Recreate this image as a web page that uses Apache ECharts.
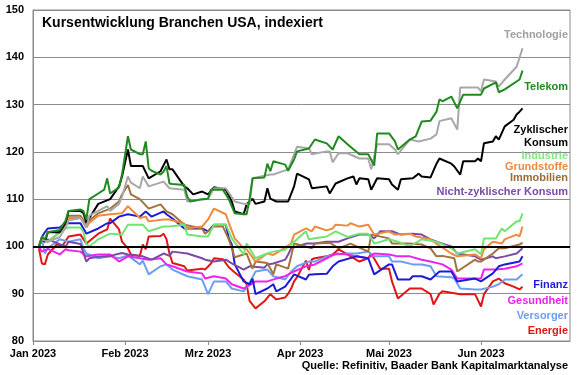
<!DOCTYPE html>
<html><head><meta charset="utf-8">
<script src="https://cdn.jsdelivr.net/npm/echarts@6/dist/echarts.min.js"></script>
<style>html,body{margin:0;padding:0;background:#fff}#c{width:580px;height:375px}</style>
</head><body><div id="c"></div>
<script>
// ---- data ----
const monthLabels = ['Jan', 'Feb', 'Mrz', 'Apr', 'Mai', 'Jun', 'Jul'];
const yTicks = { min: 80, max: 150, interval: 10 };

const technologie = [['01-03',100],['01-04',101.5],['01-06',101],['01-10',102],['01-12',104],['01-13',105.5],['01-17',106],['01-19',104],['01-20',106.5],['01-23',107.5],['01-26',108.5],['01-27',107.5],['01-30',109],['01-31',110.5],['02-02',114.8],['02-03',113.5],['02-06',112.3],['02-07',114.8],['02-09',112.7],['02-14',113.7],['02-16',112.3],['02-21',112],['02-22',109.5],['03-01',110.1],['03-03',112.3],['03-07',112.3],['03-10',109.5],['03-13',109],['03-15',108.9],['03-16',114.4],['03-22',115.2],['03-23',115.2],['03-28',116.3],['03-31',121.1],['04-04',120.7],['04-05',119.5],['04-10',120.1],['04-11',120.1],['04-12',117.8],['04-14',119.7],['04-17',119.7],['04-21',118.6],['04-24',118.6],['04-25',116.3],['04-27',121.6],['05-01',121.6],['05-03',120.5],['05-04',119.5],['05-08',122.6],['05-11',122.2],['05-15',122.8],['05-17',123.7],['05-18',126.5],['05-22',127.1],['05-24',124.7],['05-25',133.6],['05-31',133.6],['06-01',132.8],['06-02',135.3],['06-06',134.9],['06-07',133.8],['06-09',135.3],['06-13',138],['06-15',141.9]];
const telekom = [['01-03',100],['01-04',102],['01-05',101.5],['01-06',103],['01-10',103.5],['01-12',105.5],['01-13',107.5],['01-17',107.8],['01-18',107.5],['01-19',105.7],['01-20',110],['01-23',111.2],['01-25',112],['01-26',114.4],['01-27',111.2],['01-30',112.5],['01-31',115.2],['02-02',123.3],['02-03',120.5],['02-06',119.5],['02-07',119.5],['02-08',122.2],['02-09',116.5],['02-10',116],['02-13',115.2],['02-14',115.8],['02-15',117],['02-16',113.3],['02-17',113.2],['02-21',113],['02-22',110.5],['02-23',109.5],['02-27',110],['03-01',110.1],['03-02',112],['03-06',112],['03-08',110],['03-10',107],['03-13',106.8],['03-14',106.8],['03-15',110],['03-16',114.4],['03-20',114.6],['03-21',117.5],['03-22',115.9],['03-23',118],['03-27',117.3],['03-28',116],['03-30',118.4],['03-31',120.1],['04-04',120.7],['04-06',122.6],['04-10',121.8],['04-12',120.5],['04-14',123.3],['04-17',121.6],['04-21',119.5],['04-24',119.5],['04-26',117.1],['04-27',123.9],['05-01',123.9],['05-03',122.2],['05-04',120.5],['05-08',122.6],['05-10',123.3],['05-12',126.4],['05-15',126.6],['05-17',128.5],['05-18',131.1],['05-19',130.7],['05-22',131.7],['05-24',129.2],['05-26',132.1],['06-01',132.1],['06-02',133.4],['06-06',134.7],['06-07',132.6],['06-09',133.2],['06-14',135.3],['06-15',137.2]];
const zyklKonsum = [['01-03',100],['01-04',101.5],['01-05',101],['01-06',103],['01-10',103],['01-12',105],['01-13',107.5],['01-17',107.5],['01-18',107],['01-19',105],['01-20',106],['01-23',109],['01-27',110],['01-30',112.7],['01-31',114.8],['02-02',120.5],['02-03',117],['02-07',117],['02-09',114.4],['02-13',115.9],['02-15',118.4],['02-16',116.3],['02-17',116.3],['02-21',112.7],['02-22',112.3],['02-24',111],['02-27',111.6],['03-01',111],['03-03',112.5],['03-07',112],['03-09',109.5],['03-10',107.4],['03-13',106.8],['03-14',108.9],['03-16',110.1],['03-17',109],['03-20',109.5],['03-21',112.3],['03-22',110.1],['03-24',109.5],['03-28',109.5],['03-30',112.7],['03-31',115.4],['04-04',114.2],['04-05',112.3],['04-10',112.7],['04-11',111.2],['04-13',113.3],['04-17',114.4],['04-19',114.8],['04-20',113.1],['04-21',114.4],['04-24',114.2],['04-25',112],['04-27',114.4],['05-01',114.2],['05-02',113.1],['05-04',112],['05-05',114.2],['05-09',114.4],['05-11',115.4],['05-12',114.8],['05-15',114.6],['05-17',117.5],['05-18',118.6],['05-22',117.5],['05-23',116.9],['05-25',115.2],['05-26',118],['05-30',118],['05-31',118.6],['06-01',118],['06-02',121.8],['06-05',122.2],['06-06',123.3],['06-07',122.6],['06-09',125.4],['06-12',126.8],['06-13',127.9],['06-14',128.5],['06-15',129.2]];
const industrie = [['01-03',100],['01-04',101.5],['01-06',101],['01-10',103],['01-12',103.8],['01-13',104],['01-17',104],['01-18',103],['01-19',100.5],['01-20',100],['01-23',101.5],['01-27',102.7],['01-31',102.5],['02-02',104.6],['02-07',104.6],['02-09',103.2],['02-14',104.2],['02-16',104.2],['02-21',104.6],['02-22',102.5],['02-27',102.1],['03-01',102.1],['03-03',104.6],['03-07',104.6],['03-09',101.7],['03-13',98.3],['03-14',100.6],['03-17',97.5],['03-20',98.3],['03-23',98.9],['03-27',99.3],['03-28',100],['03-29',100.4],['04-03',103.2],['04-04',101.5],['04-10',102.1],['04-13',103.2],['04-17',102],['04-21',102.7],['04-24',102.7],['04-26',100.6],['05-01',101.5],['05-04',101],['05-08',100],['05-12',101.5],['05-17',101],['05-22',99.6],['05-24',98.5],['05-30',99.4],['06-01',98.3],['06-02',101.7],['06-06',101.7],['06-08',103.8],['06-09',103.2],['06-13',105.3],['06-14',105.3],['06-15',107]];
const grundstoffe = [['01-03',100],['01-04',101.5],['01-06',101],['01-10',103],['01-12',104.5],['01-13',106],['01-17',106],['01-19',104],['01-20',105],['01-23',106.5],['01-27',106.8],['01-31',107],['02-02',108.5],['02-06',106],['02-08',106.3],['02-09',105.3],['02-14',105.7],['02-16',105.7],['02-21',104.8],['02-22',103.8],['02-27',104.2],['03-01',105.7],['03-03',108],['03-07',106.8],['03-08',105],['03-10',101.7],['03-13',99.6],['03-14',99.4],['03-16',97.7],['03-17',96.8],['03-21',98.5],['03-23',98.2],['03-24',98.6],['03-29',100.6],['03-30',102.5],['04-03',103.8],['04-05',103.2],['04-06',104.2],['04-10',103.4],['04-12',103.8],['04-13',104.6],['04-17',104.4],['04-18',104.9],['04-21',104.2],['04-24',104.6],['04-26',102.5],['05-01',103.2],['05-03',102.5],['05-08',102.7],['05-10',102.1],['05-15',101.5],['05-17',100.6],['05-22',98.5],['05-24',97.9],['05-30',98.3],['06-01',97.5],['06-02',99.4],['06-05',101],['06-08',100.6],['06-09',101.5],['06-13',102.5],['06-14',102.1],['06-15',104.2]];
const immobilien = [['01-03',100],['01-04',102],['01-06',101],['01-10',103],['01-12',105],['01-13',106.5],['01-17',106.5],['01-19',104.5],['01-20',105.5],['01-23',107],['01-27',108],['01-30',109.5],['01-31',111],['02-02',113],['02-03',111],['02-06',110],['02-09',108],['02-13',108.9],['02-15',107.4],['02-17',106.8],['02-21',104.6],['02-27',103.8],['02-28',102.7],['03-03',104.2],['03-06',104.2],['03-08',101.5],['03-10',97.7],['03-14',98.5],['03-16',95.3],['03-17',96.8],['03-21',96.5],['03-23',94.1],['03-24',96.2],['03-28',95.3],['03-29',97.9],['03-30',100.6],['04-03',100],['04-05',99.6],['04-06',100.6],['04-11',100.8],['04-14',99.6],['04-18',100.6],['04-24',98.9],['04-25',102.5],['05-01',101.7],['05-02',100.6],['05-04',100.6],['05-08',100.6],['05-12',100.4],['05-15',99.6],['05-17',97.9],['05-19',98],['05-23',97.5],['05-24',94.7],['05-30',97.2],['05-31',96.8],['06-01',96.8],['06-05',98.5],['06-07',99.6],['06-09',99.6],['06-14',100.4],['06-15',100.8]];
const nichtZyklKonsum = [['01-03',100],['01-04',101.5],['01-05',101],['01-06',101.5],['01-10',100.5],['01-12',100],['01-13',101],['01-17',100.5],['01-19',96.8],['01-20',97.5],['01-23',97.8],['01-27',98],['01-31',98.6],['02-02',98.3],['02-07',97.9],['02-10',97.2],['02-14',98.5],['02-16',98],['02-17',98.9],['02-22',98.5],['02-27',97.5],['02-28',97.2],['03-03',96.8],['03-07',97.2],['03-09',96.4],['03-13',95.1],['03-15',95.8],['03-20',95.5],['03-21',96.2],['03-23',96.4],['03-27',97.2],['03-28',98.3],['03-29',99.6],['04-03',100.6],['04-06',100.6],['04-10',101],['04-14',101],['04-17',101.7],['04-21',102.5],['04-24',102.5],['04-26',101.7],['04-28',103.2],['05-02',103.2],['05-05',102.5],['05-09',102.7],['05-12',102.5],['05-15',101.5],['05-19',100.6],['05-22',100],['05-24',98.5],['05-30',97.9],['06-01',97.2],['06-05',97.9],['06-06',97.5],['06-09',97.9],['06-13',98.5],['06-15',99.6]];
const finanz = [['01-03',100],['01-04',102],['01-05',103],['01-06',103.8],['01-10',104],['01-12',105],['01-13',104.9],['01-17',104.9],['01-19',102.7],['01-23',103.8],['01-26',104.9],['01-27',104.9],['01-30',106.3],['02-02',106.8],['02-06',106.3],['02-08',107.4],['02-10',106.3],['02-14',107.4],['02-15',106.8],['02-17',105.9],['02-21',103.8],['02-27',103.8],['03-01',103.2],['03-03',104.6],['03-07',104.6],['03-08',101.7],['03-09',100.4],['03-10',96.2],['03-13',92.6],['03-15',92],['03-16',93.2],['03-17',89.9],['03-21',91.1],['03-23',92],['03-24',90.5],['03-27',91.5],['03-29',93.2],['03-30',94.1],['04-03',93],['04-04',94],['04-06',94.1],['04-10',94.2],['04-12',95.8],['04-14',96.8],['04-20',97.9],['04-24',97.5],['04-26',94.1],['05-01',96.2],['05-02',96.2],['05-04',93],['05-08',93],['05-09',93.7],['05-12',93.7],['05-15',93],['05-18',94.7],['05-22',94.7],['05-24',92.6],['05-30',93.2],['06-01',92.6],['06-05',94.3],['06-07',95.8],['06-09',96.2],['06-14',96.8],['06-15',97.9]];
const gesundheit = [['01-03',100],['01-04',98.9],['01-06',99.5],['01-10',98.3],['01-12',99.4],['01-13',99.2],['01-17',98.9],['01-19',97.9],['01-23',98.3],['01-27',98.3],['01-30',96.8],['02-02',97.9],['02-06',97.5],['02-09',97.2],['02-13',97.5],['02-15',96.2],['02-17',95.8],['02-22',94.7],['02-27',94.3],['02-28',93.2],['03-03',93.7],['03-07',93.2],['03-09',92],['03-13',91.1],['03-15',91.8],['03-17',92.6],['03-21',92.6],['03-24',93.2],['03-27',93.7],['03-30',94.7],['04-03',95.8],['04-06',96.2],['04-10',97.5],['04-13',98.5],['04-17',98.3],['04-20',97.9],['04-24',97.5],['04-26',98.5],['05-01',98.3],['05-04',97.9],['05-08',97.9],['05-12',97.2],['05-15',96.8],['05-19',96.2],['05-22',95.1],['05-24',93.2],['05-30',93.2],['06-01',93.2],['06-02',95.1],['06-06',95.1],['06-09',95.3],['06-13',95.8],['06-15',96.4]];
const versorger = [['01-03',100],['01-04',101.5],['01-05',98.5],['01-06',99.6],['01-10',101.5],['01-13',101],['01-17',101.5],['01-18',99.6],['01-19',98.5],['01-23',97.5],['01-27',97.9],['01-30',97.5],['02-02',98.1],['02-06',96.2],['02-07',97],['02-09',94.1],['02-13',95.8],['02-15',96.2],['02-17',95.1],['02-22',93.7],['02-27',93],['03-01',89.9],['03-03',92.6],['03-07',92.6],['03-09',91.1],['03-13',90.5],['03-15',92.3],['03-17',94.7],['03-21',95.1],['03-23',93.7],['03-27',93],['03-29',94.7],['03-31',95.8],['04-04',96.8],['04-06',96.8],['04-10',97.9],['04-13',98.3],['04-17',98.5],['04-20',98.5],['04-24',98.9],['04-26',97.9],['05-01',97.9],['05-02',96.8],['05-05',96.8],['05-09',96.2],['05-12',96.2],['05-15',95.8],['05-17',93.7],['05-22',93.5],['05-23',93.2],['05-25',91.1],['05-30',90.9],['06-01',90.9],['06-05',91.5],['06-07',92],['06-09',93],['06-13',93],['06-15',94.1]];
const energie = [['01-03',99.6],['01-04',96.4],['01-05',96.2],['01-06',98.3],['01-09',100.4],['01-11',100.2],['01-13',102.1],['01-17',102.5],['01-19',100.6],['01-23',102.7],['01-26',103.6],['01-27',105.9],['01-30',103.6],['01-31',101],['02-02',99.6],['02-03',98.3],['02-06',98],['02-07',100.4],['02-08',99.4],['02-09',102.1],['02-13',102.2],['02-14',102.7],['02-15',101.5],['02-16',98.5],['02-17',96.5],['02-21',95.8],['02-22',94.9],['02-27',95.3],['02-28',95.1],['03-02',96.4],['03-03',97.5],['03-06',97.3],['03-08',95.6],['03-10',94.5],['03-13',93],['03-14',92],['03-15',88.5],['03-17',86.9],['03-20',88.4],['03-22',89.9],['03-24',88.8],['03-27',89.2],['03-28',90],['03-29',91.1],['03-30',92.6],['03-31',93.5],['04-03',97],['04-04',95],['04-05',97.3],['04-06',97.5],['04-10',97.9],['04-12',98.3],['04-14',99.4],['04-17',98.3],['04-21',96.8],['04-24',97.5],['04-25',98.5],['04-28',95.3],['05-01',95.3],['05-02',92.6],['05-04',89],['05-08',91.1],['05-11',91.1],['05-12',91.1],['05-15',89.9],['05-16',87.7],['05-18',90],['05-19',90.5],['05-23',90.1],['05-25',89.9],['05-30',89.9],['06-01',87.3],['06-02',89.9],['06-05',92.6],['06-07',93.2],['06-09',92.2],['06-12',91.5],['06-14',90.9],['06-15',91.5]];

// ---- series definitions ----
const FONT = '"Liberation Sans", Arial, sans-serif';
const seriesDefs = [
  { name: 'Energie', data: energie, color: '#e31414' },
  { name: 'Versorger', data: versorger, color: '#6b9ef0' },
  { name: 'Gesundheit', data: gesundheit, color: '#ee22ee' },
  { name: 'Finanz', data: finanz, color: '#1c1cd6' },
  { name: 'Nicht-zyklischer Konsum', data: nichtZyklKonsum, color: '#7a4aa6' },
  { name: 'Immobilien', data: immobilien, color: '#a2723f' },
  { name: 'Grundstoffe', data: grundstoffe, color: '#ef8a3c' },
  { name: 'Industrie', data: industrie, color: '#72e472' },
  { name: 'Zyklischer Konsum', data: zyklKonsum, color: '#000000' },
  { name: 'Technologie', data: technologie, color: '#a8a8a8' },
  { name: 'Telekom', data: telekom, color: '#1f8a1f' }
];

// Right-hand labels (text, colour, vertical centre)
const rightLabels = [
  ['Technologie', '#a0a0a0', 36],
  ['Telekom', '#1f8a1f', 88],
  ['Zyklischer', '#000000', 131],
  ['Konsum', '#000000', 144],
  ['Industrie', '#7fe87f', 157],
  ['Grundstoffe', '#ef8a3c', 168],
  ['Immobilien', '#9a6a38', 179],
  ['Nicht-zyklischer Konsum', '#7a4aa6', 193],
  ['Finanz', '#1c1cd6', 286],
  ['Gesundheit', '#ee22ee', 302],
  ['Versorger', '#6b9ef0', 317],
  ['Energie', '#e31414', 332]
];

const chart = echarts.init(document.getElementById('c'), null, { renderer: 'canvas' });
const series = seriesDefs.map(s => ({
  name: s.name,
  type: 'line',
  data: s.data.map(p => ['2023-' + p[0], p[1]]),
  showSymbol: false,
  symbol: 'none',
  lineStyle: { width: 2, color: s.color },
  itemStyle: { color: s.color },
  animation: false
}));
series[0].markLine = {
  silent: true, symbol: 'none', label: { show: false },
  lineStyle: { color: '#000', width: 2, type: 'solid' },
  data: [{ yAxis: 100 }], animation: false
};

chart.setOption({
  animation: false,
  backgroundColor: '#fff',
  textStyle: { fontFamily: FONT },
  title: [
    { text: 'Kursentwicklung Branchen USA, indexiert', left: 37, top: 11,
      textStyle: { fontFamily: FONT, fontSize: 14, fontWeight: 'bold', color: '#000' } },
    { text: 'Quelle: Refinitiv, Baader Bank Kapitalmarktanalyse', right: 7, top: 355,
      textStyle: { fontFamily: FONT, fontSize: 11, fontWeight: 'bold', color: '#000' } }
  ],
  grid: { left: 33, right: 10, top: 10, bottom: 34, show: true, borderColor: '#8a8a8a', borderWidth: 1 },
  xAxis: {
    type: 'time',
    min: '2023-01-01', max: '2023-07-01',
    splitNumber: 6,
    minInterval: 28 * 86400000,
    maxInterval: 31 * 86400000,
    axisLine: { lineStyle: { color: '#8a8a8a', width: 1 } },
    axisTick: { show: true, length: 4, lineStyle: { color: '#8a8a8a' } },
    splitLine: { show: false },
    axisLabel: {
      showMaxLabel: false,
      margin: 7,
      color: '#000', fontFamily: FONT, fontSize: 11, fontWeight: 'bold',
      formatter: v => { const d = new Date(v); return monthLabels[d.getMonth()] + ' ' + d.getFullYear(); }
    }
  },
  yAxis: {
    type: 'value', min: yTicks.min, max: yTicks.max, interval: yTicks.interval,
    axisLine: { show: true, lineStyle: { color: '#8a8a8a' } },
    axisTick: { show: false },
    splitLine: { lineStyle: { color: '#8a8a8a', width: 1 } },
    axisLabel: { margin: 9, color: '#000', fontFamily: FONT, fontSize: 11, fontWeight: 'bold' }
  },
  graphic: rightLabels.map(l => ({
    type: 'text', right: 12, top: l[2] - 7,
    style: { text: l[0], fill: l[1], font: 'bold 11px ' + FONT, textAlign: 'right' },
    z: 100
  })),
  series: series
});
</script></body></html>
